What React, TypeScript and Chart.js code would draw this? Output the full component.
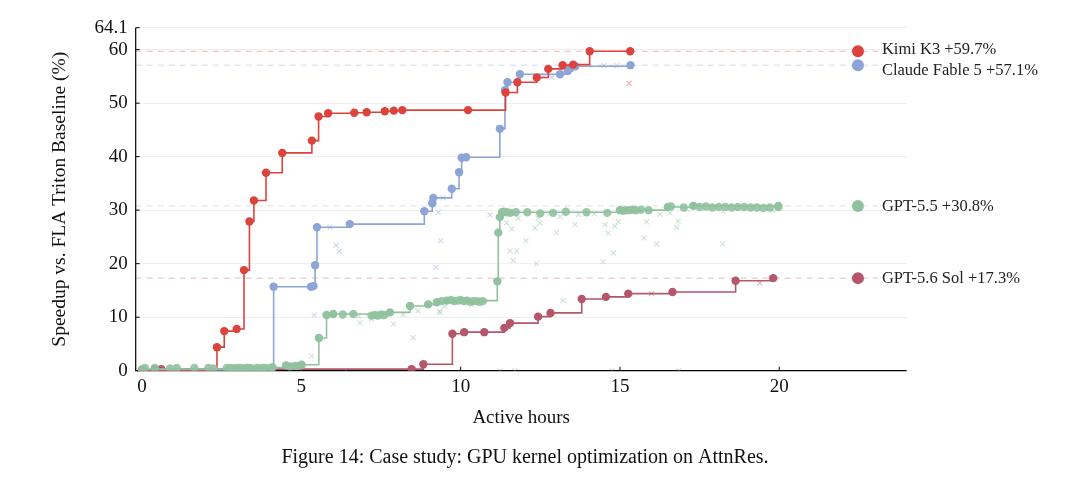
import React, { useEffect, useRef } from "react";
import { Chart, registerables } from "chart.js";

Chart.register(...registerables);

// ---------- data ----------
const X_TICKS = [0, 5, 10, 15, 20];
const Y_TICKS = [0, 10, 20, 30, 40, 50, 60, 64.1];
const SERIES_NAMES = ["Kimi K3", "Claude Fable 5", "GPT-5.5", "GPT-5.6 Sol"];
const FINAL_GAINS = [59.7, 57.1, 30.8, 17.3];

type P = [number, number];

const kimiBest: P[] = [
  [0, 0], [2.35, 4.4], [2.58, 7.4], [2.97, 7.8], [3.2, 18.8], [3.37, 27.9], [3.51, 31.8],
  [3.89, 37.0], [4.4, 40.7], [5.33, 43.0], [5.54, 47.5], [5.84, 48.1], [6.66, 48.2],
  [7.05, 48.3], [7.62, 48.5], [7.9, 48.6], [8.17, 48.7], [10.23, 48.7], [11.41, 52.0],
  [11.78, 53.9], [12.39, 54.8], [12.75, 56.4], [13.2, 57.1], [13.53, 57.2], [14.05, 59.7],
  [15.32, 59.7],
];
const kimiFailed: P[] = [[15.29, 53.7]];

const claudeBest: P[] = [
  [0, 0], [4.13, 15.7], [5.3, 15.7], [5.38, 15.8], [5.43, 19.7], [5.49, 26.8], [6.52, 27.4],
  [8.86, 29.8], [9.11, 31.3], [9.14, 32.3], [9.72, 34.0], [9.95, 37.1], [10.03, 39.8],
  [10.17, 39.9], [11.23, 45.2], [11.39, 52.4], [11.47, 53.9], [11.86, 55.4], [13.12, 55.4],
  [13.36, 56.0], [13.44, 56.5], [13.6, 56.9], [15.33, 57.1],
];
const claudeFailed: P[] = [
  [5.4, 10.4], [5.9, 26.8], [6.09, 23.4], [6.19, 22.3], [6.39, 0], [9.22, 19.3], [9.37, 24.3],
  [9.3, 29.6], [9.45, 32.3], [10.92, 29.1], [12.6, 55.0], [12.86, 54.8], [14.5, 57.0],
  [14.9, 57.0], [3.6, 0],
];

const gpt55Best: P[] = [
  [0, 0.3], [4.1, 0.6], [4.52, 1.0], [5.01, 1.1], [5.55, 6.1], [5.79, 10.4], [6.0, 10.6],
  [7.78, 10.9], [8.41, 12.1], [8.98, 12.4], [9.25, 12.8], [9.56, 13.1], [11.15, 16.7],
  [11.18, 25.8], [11.23, 28.7], [11.3, 29.6], [15.0, 30.0], [16.5, 30.6], [17.3, 30.8],
  [19.97, 30.8],
];
const gpt55Kept: P[] = [
  [0.09, 0.5], [0.4, 0.5], [0.88, 0.4], [1.09, 0.5], [1.64, 0.5], [2.08, 0.5], [2.24, 0.4],
  [2.66, 0.5], [2.76, 0.5], [2.86, 0.4], [2.97, 0.5], [3.07, 0.5], [3.18, 0.4], [3.28, 0.5],
  [3.36, 0.5], [3.44, 0.4], [3.6, 0.5], [3.7, 0.4], [3.8, 0.5], [3.91, 0.5], [4.07, 0.6],
  [4.65, 0.8], [4.8, 0.9], [4.9, 0.9], [6.3, 10.5], [6.63, 10.6], [7.2, 10.3], [7.3, 10.4],
  [7.4, 10.3], [7.5, 10.5], [7.6, 10.4], [9.4, 13.0], [9.7, 13.2], [9.8, 13.0], [9.9, 13.1],
  [10.0, 13.2], [10.1, 13.0], [10.2, 13.1], [10.3, 12.9], [10.4, 13.0], [10.5, 13.0],
  [10.6, 12.9], [10.7, 13.0], [11.35, 29.7], [11.45, 29.6], [11.55, 29.5], [11.73, 29.6],
  [12.09, 29.6], [12.5, 29.4], [12.9, 29.5], [13.3, 29.7], [13.95, 29.6], [14.6, 29.5],
  [15.1, 29.9], [15.2, 30.0], [15.3, 30.0], [15.4, 30.1], [15.5, 30.0], [15.66, 30.1],
  [15.9, 30.0], [16.6, 30.7], [17.0, 30.5], [17.5, 30.6], [17.7, 30.7], [17.9, 30.5],
  [18.1, 30.6], [18.3, 30.6], [18.5, 30.5], [18.7, 30.6], [18.9, 30.6], [19.1, 30.5],
  [19.3, 30.5], [19.5, 30.4], [19.7, 30.5], [19.97, 30.6],
];
const gpt55Failed: P[] = [
  [5.32, 2.7], [6.84, 9.0], [7.2, 9.7], [7.89, 8.7], [8.51, 6.2], [8.66, 11.2], [9.33, 11.1],
  [9.36, 10.9], [10.35, 12.3], [10.0, 12.8], [6.8, 10.2], [7.5, 10.0], [8.2, 10.5], [9.5, 12.0],
  [10.6, 12.6], [11.44, 27.6], [11.6, 26.5], [11.81, 28.5], [12.05, 24.3], [11.55, 22.4],
  [11.76, 22.4], [11.65, 20.6], [12.38, 20.0], [12.33, 26.7], [12.49, 27.6], [12.43, 28.5],
  [13.01, 25.8], [13.12, 28.8], [13.22, 13.1], [13.59, 27.3], [14.47, 20.4], [14.53, 27.3],
  [14.63, 25.7], [14.79, 22.0], [14.84, 27.0], [14.95, 27.9], [15.75, 24.8], [15.84, 27.8],
  [16.15, 23.7], [16.25, 29.2], [16.57, 29.5], [16.78, 26.8], [16.83, 27.9], [18.22, 23.7],
  [18.24, 29.8], [12.8, 29.3], [13.7, 29.2], [14.2, 29.3], [15.6, 29.7], [17.1, 30.2],
  [17.8, 30.3], [18.6, 30.4], [19.2, 30.2], [19.8, 30.0], [19.95, 30.3], [11.23, 0],
  [11.7, 0], [14.75, 0], [16.85, 0], [5.0, 0],
];

const solBest: P[] = [
  [0, 0], [0.4, 0.3], [0.6, 0.3], [8.46, 0.3], [8.83, 1.2], [9.74, 6.9], [10.11, 7.2],
  [10.74, 7.2], [11.37, 8.0], [11.55, 8.9], [12.43, 10.1], [12.82, 10.8], [13.8, 13.4],
  [14.56, 13.8], [15.26, 14.4], [16.65, 14.7], [18.63, 16.8], [19.81, 17.3],
];
const solFailed: P[] = [[15.99, 14.4], [19.39, 16.4]];

// ---------- style ----------
const COLORS = ["#dc433d", "#8ca5d6", "#91c29f", "#b5566b"];
const LABEL_SHIFT = [-3, 5, 0, 0];
const FONT = "'Liberation Serif', 'Times New Roman', serif";
const rgba = (hex: string, a: number) => {
  const n = parseInt(hex.slice(1), 16);
  return `rgba(${(n >> 16) & 255},${(n >> 8) & 255},${n & 255},${a})`;
};
const pts = (arr: P[]) => arr.map(([x, y]) => ({ x, y }));

const overlayPlugin = {
  id: "overlay",
  beforeDatasetsDraw(chart: any) {
    const { ctx, scales, chartArea } = chart;
    const xs = scales.x, ys = scales.y;
    ctx.save();
    FINAL_GAINS.forEach((g, i) => {
      const py = ys.getPixelForValue(g);
      ctx.setLineDash([6, 5]);
      ctx.strokeStyle = rgba(COLORS[i], 0.4);
      ctx.lineWidth = 1;
      ctx.beginPath();
      ctx.moveTo(chartArea.left, py);
      ctx.lineTo(xs.getPixelForValue(23.1), py);
      ctx.stroke();
    });
    ctx.setLineDash([]);
    ctx.strokeStyle = "#000";
    ctx.lineWidth = 1.2;
    ctx.beginPath();
    ctx.moveTo(chartArea.left, chartArea.top);
    ctx.lineTo(chartArea.left, chartArea.bottom);
    ctx.lineTo(chartArea.right, chartArea.bottom);
    ctx.stroke();
    ctx.lineWidth = 1;
    X_TICKS.forEach((v) => {
      const px = xs.getPixelForValue(v);
      ctx.beginPath();
      ctx.moveTo(px, chartArea.bottom);
      ctx.lineTo(px, chartArea.bottom - 4);
      ctx.stroke();
    });
    Y_TICKS.forEach((v) => {
      const py = ys.getPixelForValue(v);
      ctx.beginPath();
      ctx.moveTo(chartArea.left, py);
      ctx.lineTo(chartArea.left + 4, py);
      ctx.stroke();
    });
    ctx.restore();
  },
  afterDraw(chart: any) {
    const { ctx, scales, chartArea } = chart;
    const xs = scales.x, ys = scales.y;
    ctx.save();
    const cx = xs.getPixelForValue(22.47);
    FINAL_GAINS.forEach((g, i) => {
      const py = ys.getPixelForValue(g);
      ctx.fillStyle = COLORS[i];
      ctx.beginPath();
      ctx.arc(cx, py, 6, 0, Math.PI * 2);
      ctx.fill();
      ctx.fillStyle = "#222";
      ctx.font = `16.5px ${FONT}`;
      ctx.textAlign = "left";
      ctx.textBaseline = "middle";
      ctx.fillText(`${SERIES_NAMES[i]} +${g.toFixed(1)}%`, cx + 24, py + 1 + LABEL_SHIFT[i]);
    });
    ctx.fillStyle = "#111";
    ctx.font = `19px ${FONT}`;
    ctx.textAlign = "center";
    ctx.textBaseline = "middle";
    ctx.fillText("Active hours", (chartArea.left + chartArea.right) / 2, 418);
    ctx.save();
    ctx.font = `19.5px ${FONT}`;
    ctx.translate(60, (chartArea.top + chartArea.bottom) / 2);
    ctx.rotate(-Math.PI / 2);
    ctx.fillText("Speedup vs. FLA Triton Baseline (%)", 0, 0);
    ctx.restore();
    ctx.font = `20px ${FONT}`;
    ctx.fillText("Figure 14: Case study: GPU kernel optimization on AttnRes.", 525, 458);
    ctx.restore();
  },
};

export default function App() {
  const ref = useRef<HTMLCanvasElement>(null);

  useEffect(() => {
    if (!ref.current) return;
    const lineDs = (label: string, data: P[], i: number, order: number) => ({
      type: "line" as const,
      label,
      data: pts(data),
      stepped: "before" as const,
      borderColor: COLORS[i],
      borderWidth: 1.6,
      pointRadius: 4.2,
      pointBackgroundColor: COLORS[i],
      pointBorderWidth: 0,
      fill: false,
      order,
    });
    const failDs = (label: string, data: P[], i: number, order: number) => ({
      type: "scatter" as const,
      label,
      data: pts(data),
      pointStyle: "crossRot" as const,
      pointRadius: 3.5,
      borderColor: rgba(COLORS[i], 0.45),
      backgroundColor: rgba(COLORS[i], 0.45),
      pointBorderWidth: 1.1,
      order,
    });
    const chart = new Chart(ref.current, {
      type: "scatter",
      data: {
        datasets: [
          {
            type: "scatter",
            label: "GPT-5.5 kept",
            data: pts(gpt55Kept),
            pointRadius: 4.2,
            pointBackgroundColor: rgba(COLORS[2], 0.9),
            pointBorderWidth: 0,
            order: 0,
          },
          lineDs(SERIES_NAMES[2], gpt55Best, 2, 1),
          lineDs(SERIES_NAMES[0], kimiBest, 0, 2),
          lineDs(SERIES_NAMES[1], claudeBest, 1, 3),
          lineDs(SERIES_NAMES[3], solBest, 3, 4),
          failDs("Kimi failed", kimiFailed, 0, 5),
          failDs("Claude failed", claudeFailed, 1, 6),
          failDs("GPT-5.5 failed", gpt55Failed, 2, 7),
          failDs("Sol failed", solFailed, 3, 8),
        ] as any,
      },
      options: {
        animation: false,
        responsive: true,
        maintainAspectRatio: false,
        layout: { padding: { top: 27.7, right: 173.3, bottom: 0, left: 0 } },
        plugins: { legend: { display: false }, tooltip: { enabled: false } },
        scales: {
          x: {
            type: "linear",
            min: -0.2,
            max: 24,
            afterBuildTicks: (s: any) => {
              s.ticks = X_TICKS.map((v) => ({ value: v }));
            },
            afterFit: (s: any) => {
              s.height = 116.3;
            },
            grid: { display: false, drawTicks: false },
            border: { display: false },
            ticks: {
              autoSkip: false,
              maxRotation: 0,
              padding: 5,
              color: "#111",
              font: { family: FONT, size: 19 },
              callback: (v: any) => String(v),
            },
          },
          y: {
            type: "linear",
            min: 0,
            max: 64.1,
            afterBuildTicks: (s: any) => {
              s.ticks = Y_TICKS.map((v) => ({ value: v }));
            },
            afterFit: (s: any) => {
              s.width = 135.7;
            },
            grid: {
              drawTicks: false,
              color: (c: any) => (c.tick && c.tick.value === 0 ? "rgba(0,0,0,0)" : "#efefef"),
              lineWidth: 1,
            },
            border: { display: false },
            ticks: {
              autoSkip: false,
              padding: 8,
              color: "#111",
              font: { family: FONT, size: 19 },
              callback: (v: any) => String(v),
            },
          },
        },
      },
      plugins: [overlayPlugin],
    });
    return () => chart.destroy();
  }, []);

  return (
    <div
      style={{
        position: "fixed",
        left: 0,
        top: 0,
        width: 1080,
        height: 487,
        background: "#fff",
      }}
    >
      <canvas ref={ref} />
    </div>
  );
}
